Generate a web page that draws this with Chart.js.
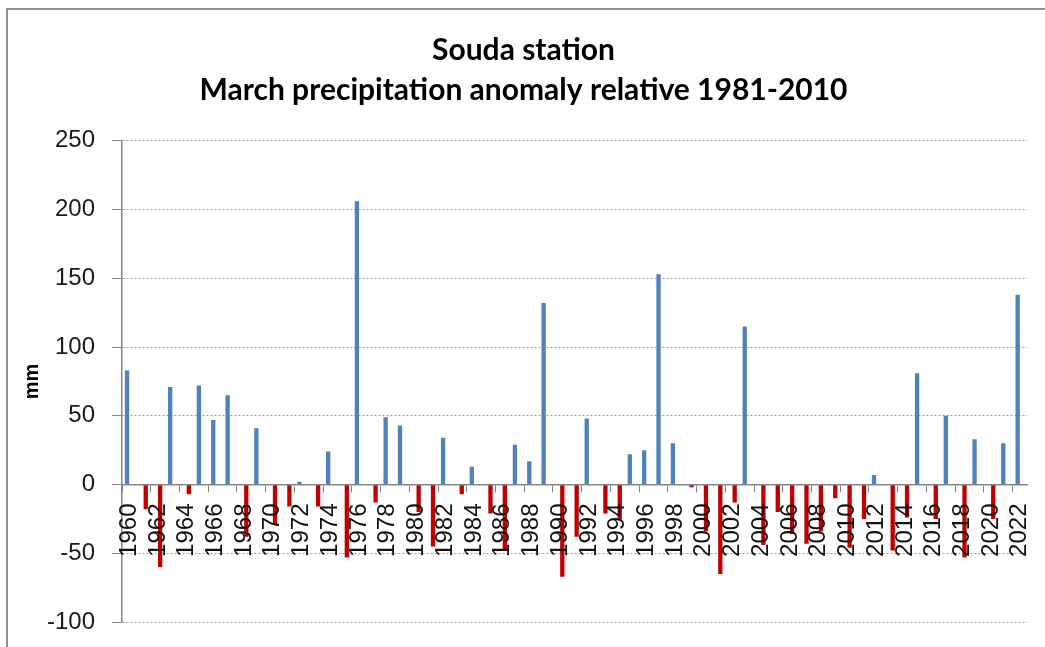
<!DOCTYPE html>
<html>
<head>
<meta charset="utf-8">
<script src="https://cdn.jsdelivr.net/npm/chart.js@4.4.1/dist/chart.umd.min.js"></script>
<style>
  html, body { margin: 0; padding: 0; background: #fff; overflow: hidden; }
  #wrap { position: relative; width: 1045px; height: 647px; }
  #frame { position: absolute; left: 6px; top: 8px; width: 1100px; height: 700px;
           border: 2px solid #8d8d8d; pointer-events: none; }
</style>
</head>
<body>
<div id="wrap">
  <canvas id="chart" width="1045" height="647"></canvas>
  <div id="frame"></div>
</div>
<script>
const years = ['1960', '1961', '1962', '1963', '1964', '1965', '1966', '1967', '1968', '1969',
               '1970', '1971', '1972', '1973', '1974', '1975', '1976', '1977', '1978', '1979',
               '1980', '1981', '1982', '1983', '1984', '1985', '1986', '1987', '1988', '1989',
               '1990', '1991', '1992', '1993', '1994', '1995', '1996', '1997', '1998', '1999',
               '2000', '2001', '2002', '2003', '2004', '2005', '2006', '2007', '2008', '2009',
               '2010', '2011', '2012', '2013', '2014', '2015', '2016', '2017', '2018', '2019',
               '2020', '2021', '2022'];

// March anomaly (mm) relative to 1981-2010
const anomaly = [83, -18, -60, 71, -7, 72, 47, 65, -38, 41,
                 -29, -16, 2, -16, 24, -53, 206, -13, 49, 43,
                 -20, -45, 34, -7, 13, -21, -47, 29, 17, 132,
                 -67, -38, 48, -21, -25, 22, 25, 153, 30, -2,
                 -34, -65, -13, 115, -44, -20, -36, -43, -34, -10,
                 -46, -25, 7, -48, -24, 81, -25, 50, -53, 33,
                 -25, 30, 138];

const yTicks = [-100, -50, 0, 50, 100, 150, 200, 250];

// split into the two Excel-style series
const positive = anomaly.map(v => v >= 0 ? v : null);
const negative = anomaly.map(v => v < 0 ? v : null);

const ctx = document.getElementById('chart');

new Chart(ctx, {
    type: 'bar',
    data: {
        labels: years,
        datasets: [{
            label: 'positive',
            data: positive,
            backgroundColor: '#4f81bd',
            categoryPercentage: 0.6,
            barPercentage: 1.0
        }, {
            label: 'negative',
            data: negative,
            backgroundColor: '#c00000',
            categoryPercentage: 0.6,
            barPercentage: 1.0
        }]
    },
    options: {
        responsive: false,
        animation: false,
        layout: {
            padding: { left: 20, right: 18, top: 0, bottom: 25 }
        },
        plugins: {
            legend: { display: false },
            tooltip: { enabled: false },
            title: {
                display: true,
                text: ['Souda station', 'March precipitation anomaly relative 1981-2010'],
                color: '#000',
                font: { family: 'Lato', weight: 'bold', size: 30, lineHeight: 1.33 },
                padding: { top: 30, bottom: 31 }
            }
        },
        scales: {
            x: {
                position: { y: 0 },
                offset: true,
                afterFit: s => { s.paddingLeft = 0; s.paddingRight = 0; },
                grid: {
                    offset: true,
                    drawOnChartArea: false,
                    tickLength: 7,
                    tickColor: c => c.index % 2 === 0 ? '#868686' : 'rgba(0,0,0,0)'
                },
                border: { color: '#868686', width: 1.5, z: 1 },
                ticks: {
                    autoSkip: false,
                    minRotation: 90,
                    maxRotation: 90,
                    padding: 12,
                    z: 1,
                    color: '#111',
                    font: { family: 'Liberation Sans', size: 24 },
                    callback: function (val, i) { return i % 2 === 0 ? years[i] : ''; }
                }
            },
            y: {
                min: -100,
                max: 250,
                afterBuildTicks: axis => { axis.ticks = yTicks.map(v => ({ value: v })); },
                afterFit: s => { s.paddingTop = 0; s.paddingBottom = 0; },
                grid: {
                    color: '#9a9a9a',
                    tickColor: '#868686',
                    tickLength: 10
                },
                border: { color: '#868686', width: 1.5, dash: [2, 2] },
                ticks: {
                    padding: 17,
                    color: '#1a1a1a',
                    font: { family: 'Liberation Sans', size: 24 }
                },
                title: {
                    display: true,
                    text: 'mm',
                    color: '#000',
                    font: { family: 'Liberation Sans', weight: 'bold', size: 20 },
                    padding: { top: 0, bottom: -14 }
                }
            }
        }
    }
});
</script>
</body>
</html>
